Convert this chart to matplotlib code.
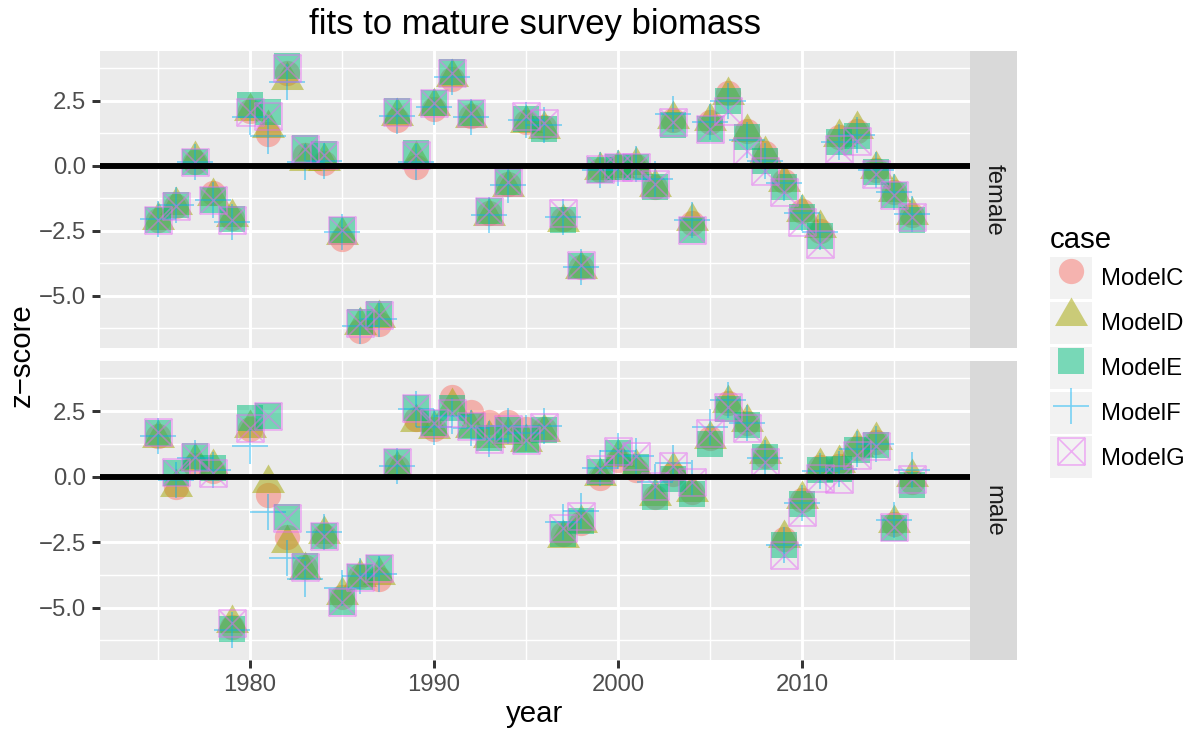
import matplotlib
matplotlib.use('Agg')
import matplotlib.pyplot as plt
from matplotlib.path import Path
from matplotlib.lines import Line2D
from matplotlib.patches import Rectangle
from matplotlib.legend_handler import HandlerLine2D

plt.rcParams['font.family'] = ['Liberation Sans', 'DejaVu Sans']

years = list(range(1975, 2017))
cases = ['ModelC', 'ModelD', 'ModelE', 'ModelF', 'ModelG']
panels = ['female', 'male']

# z-scores, 1975..2016
female_C = [-2.10, -1.55, 0.15, -1.05, -2.00, 2.10, 1.24, 3.57, 0.40, 0.10, -2.83, -6.33, -6.06,
            1.74, -0.03, 2.20, 3.33, 1.90, -1.80, -0.70, 1.70, 1.50, -2.05, -3.90, -0.15, -0.05,
            0.00, -0.80, 1.75, -2.20, 1.70, 2.80, 1.35, 0.50, -0.60, -1.75, -2.50, 1.10, 1.35,
            -0.15, -1.00, -1.90]
female_D = [-2.10, -1.50, 0.25, -1.15, -1.95, 2.10, 1.45, 3.30, 0.20, 0.20, -2.66, -6.13, -5.83,
            1.90, 0.25, 2.28, 3.42, 1.85, -1.94, -0.80, 1.65, 1.42, -2.15, -3.98, -0.18, -0.10,
            0.02, -0.82, 1.78, -2.14, 1.71, 2.73, 1.28, 0.44, -0.63, -1.76, -2.40, 1.12, 1.41,
            -0.12, -1.00, -1.90]
female_E = [-2.10, -1.50, 0.15, -1.30, -2.05, 2.35, 2.05, 3.83, 0.70, 0.45, -2.47, -6.02, -5.68,
            2.09, 0.50, 2.41, 3.60, 2.04, -1.75, -0.62, 1.78, 1.43, -2.09, -3.85, -0.16, -0.05,
            -0.05, -0.82, 1.58, -2.47, 1.40, 2.47, 1.10, 0.19, -0.82, -1.95, -2.71, 0.90, 1.14,
            -0.24, -1.14, -2.09]
female_F = [-2.05, -1.50, 0.15, -1.30, -2.15, 1.86, 1.15, 3.22, 0.15, 0.20, -2.56, -6.17, -5.87,
            1.90, 0.15, 2.25, 3.40, 1.86, -1.90, -0.75, 1.74, 1.55, -1.98, -3.90, -0.16, -0.10,
            0.05, -0.50, 2.00, -2.10, 1.70, 2.50, 0.98, 0.20, -0.66, -1.83, -2.55, 0.90, 1.17,
            -0.16, -1.00, -1.87]
female_G = [-2.10, -1.55, 0.15, -1.30, -2.10, 2.05, 1.93, 3.74, 0.64, 0.40, -2.47, -6.05, -5.75,
            2.05, 0.40, 2.41, 3.55, 2.04, -1.75, -0.62, 1.90, 1.66, -1.80, -3.80, -0.14, -0.05,
            -0.05, -0.70, 1.70, -2.47, 1.40, 2.09, 0.57, -0.19, -1.00, -2.15, -3.00, 0.64, 0.95,
            -0.30, -1.12, -1.97]

male_C = [1.54, -0.38, 0.45, 0.20, -5.75, 1.80, -0.70, -2.31, -3.45, -2.25, -4.60, -3.80, -3.90,
          0.38, 2.18, 1.80, 3.03, 2.45, 2.07, 2.07, 1.80, 1.80, -2.20, -1.77, -0.05, 0.64,
          0.26, -0.77, 0.10, -0.60, 1.47, 2.80, 2.05, 0.80, -2.40, -0.90, 0.35, 0.40, 1.10,
          1.30, -1.80, -0.19]
male_D = [1.49, -0.40, 0.60, 0.37, -5.60, 1.84, -0.24, -2.52, -3.55, -2.20, -4.52, -3.82, -3.75,
          0.30, 2.10, 1.80, 2.68, 1.84, 1.46, 1.60, 1.33, 1.71, -2.33, -1.78, 0.04, 0.75,
          0.37, -0.74, 0.25, -0.59, 1.45, 2.80, 2.10, 0.87, -2.34, -0.86, 0.42, 0.50, 1.13,
          1.39, -1.76, -0.02]
male_E = [1.68, 0.14, 0.77, 0.33, -5.83, 2.22, 2.30, -1.55, -3.40, -2.27, -4.78, -3.82, -3.48,
          0.55, 2.60, 2.03, 2.60, 1.92, 1.46, 1.78, 1.39, 1.78, -2.21, -1.70, 0.19, 0.91,
          0.37, -0.77, -0.09, -0.67, 1.26, 2.57, 1.97, 0.75, -2.60, -1.05, 0.26, 0.30, 1.00,
          1.20, -1.95, -0.33]
male_F = [1.54, -0.13, 0.70, 0.26, -5.85, 1.18, -1.35, -3.12, -3.89, -2.12, -4.24, -3.80, -3.70,
          0.40, 2.57, 1.88, 2.31, 1.84, 1.45, 1.93, 1.68, 1.93, -1.75, -1.32, 0.34, 0.96,
          0.77, -0.19, 0.53, -0.05, 1.89, 2.92, 2.05, 0.71, -2.60, -1.00, 0.22, 0.30, 1.07,
          1.24, -1.67, 0.26]
male_G = [1.70, 0.17, 0.75, 0.14, -5.60, 1.84, 2.30, -1.60, -3.45, -2.27, -4.80, -3.82, -3.48,
          0.55, 2.60, 2.03, 2.42, 1.92, 1.42, 1.80, 1.40, 1.90, -1.95, -1.50, 0.30, 0.98,
          0.77, -0.35, 0.39, -0.20, 1.65, 2.67, 1.84, 0.56, -2.98, -1.37, -0.05, -0.09, 0.84,
          1.15, -1.92, -0.09]

panel_data = {
    'female': [female_C, female_D, female_E, female_F, female_G],
    'male': [male_C, male_D, male_E, male_F, male_G],
}

colors = ['#F8766D', '#A3A500', '#00BF7D', '#00B0F6', '#E76BF3']

# ggplot shapes 16, 17, 15, 3, 7
tri = Path([(-0.866, -0.5), (0.866, -0.5), (0.0, 1.0), (-0.866, -0.5)],
           [Path.MOVETO, Path.LINETO, Path.LINETO, Path.CLOSEPOLY])
boxcross = Path([(-1, -1), (1, -1), (1, 1), (-1, 1), (-1, -1),
                 (-1, -1), (1, 1), (-1, 1), (1, -1)],
                [Path.MOVETO, Path.LINETO, Path.LINETO, Path.LINETO, Path.CLOSEPOLY,
                 Path.MOVETO, Path.LINETO, Path.MOVETO, Path.LINETO])
markers = ['o', tri, 's', '+', boxcross]
msizes = [9.1, 13.7, 9.1, 13.3, 9.7]
filled = [True, True, True, False, False]


def marker_kw(i):
    if filled[i]:
        return dict(marker=markers[i], markersize=msizes[i], markerfacecolor=colors[i],
                    markeredgecolor='none', markeredgewidth=0, alpha=0.5)
    return dict(marker=markers[i], markersize=msizes[i], markerfacecolor='none',
                markeredgecolor=colors[i], markeredgewidth=0.6, alpha=0.5)


W, H = 1191, 734
fig = plt.figure(figsize=(W / 200, H / 200), dpi=200)

panel_px = {'female': (51, 348), 'male': (361, 660)}
left_px, right_px, strip_px = 100, 970, 1017

xlim = (1971.85, 2019.13)
ylim = (-7.0, 4.41)

for name in panels:
    top, bot = panel_px[name]
    ax = fig.add_axes([left_px / W, 1 - bot / H, (right_px - left_px) / W, (bot - top) / H])
    ax.set_facecolor('#EBEBEB')
    for s in ax.spines.values():
        s.set_visible(False)
    ax.set_xlim(*xlim)
    ax.set_ylim(*ylim)
    ax.set_xticks([1980, 1990, 2000, 2010])
    ax.set_xticks([1975, 1985, 1995, 2005, 2015], minor=True)
    ax.set_yticks([-5.0, -2.5, 0.0, 2.5])
    ax.set_yticks([-6.25, -3.75, -1.25, 1.25, 3.75], minor=True)
    ax.grid(True, which='major', color='white', linewidth=1.07)
    ax.grid(True, which='minor', color='white', linewidth=0.53)
    ax.set_axisbelow(True)
    ax.tick_params(which='major', length=2.75, width=1.07, color='#333333',
                   labelsize=8.6, labelcolor='#4D4D4D', pad=2.2)
    ax.tick_params(which='minor', length=0)
    if name == 'female':
        ax.tick_params(axis='x', which='both', length=0, labelbottom=False)

    for i, case in enumerate(cases):
        ax.plot(years, panel_data[name][i], linestyle='none', zorder=2, **marker_kw(i))
    ax.axhline(0, color='black', linewidth=2.13, zorder=3)

    sax = fig.add_axes([right_px / W, 1 - bot / H, (strip_px - right_px) / W, (bot - top) / H])
    sax.set_facecolor('#D9D9D9')
    sax.set_xticks([])
    sax.set_yticks([])
    for s in sax.spines.values():
        s.set_visible(False)
    sax.text(0.5, 0.5, name, rotation=270, ha='center', va='center',
             fontsize=8.6, color='#1A1A1A', transform=sax.transAxes)

fig.text(535 / W, 1 - 34 / H, 'fits to mature survey biomass', ha='center', va='baseline',
         fontsize=12.5, color='black')
fig.text(535 / W, 1 - 722 / H, 'year', ha='center', va='baseline', fontsize=10.6)
fig.text(22 / W, 1 - 355.5 / H, 'z\u2212score', rotation=90, ha='center', va='center',
         fontsize=10.6)


class KeyHandler(HandlerLine2D):
    def create_artists(self, legend, orig_handle, xdescent, ydescent, width, height,
                       fontsize, trans):
        bg = Rectangle((-xdescent, -ydescent), width, height, facecolor='#F2F2F2',
                       edgecolor='none', transform=trans)
        arts = super().create_artists(legend, orig_handle, xdescent, ydescent, width,
                                      height, fontsize, trans)
        return [bg] + list(arts)


handles = [Line2D([], [], linestyle='none', **marker_kw(i)) for i in range(len(cases))]
leg = fig.legend(handles, cases, loc='upper left', bbox_to_anchor=(1050 / W, 1 - 226 / H),
                 frameon=False, title='case', title_fontsize=10.6, fontsize=8.6,
                 handlelength=1.76, handleheight=2.33, labelspacing=0.12,
                 handletextpad=0.36, borderpad=0, borderaxespad=0, alignment='left',
                 handler_map={Line2D: KeyHandler(numpoints=1)})

fig.savefig('out.png', dpi=200)
